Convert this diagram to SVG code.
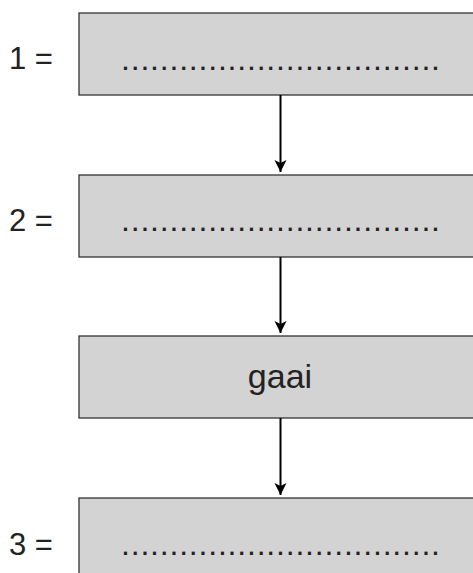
<svg xmlns="http://www.w3.org/2000/svg" width="473" height="573" viewBox="0 0 473 573">
<defs>
<style>
.box{fill:#d3d3d3;stroke:#333;stroke-width:1.3}
.t{font-family:"Liberation Sans",Arial,sans-serif;fill:#222}
.lab{font-size:31px}
.dots{font-size:32px;letter-spacing:0.8px}
.c{stroke:#000;stroke-width:2;fill:none}
</style>
<marker id="ah" markerUnits="userSpaceOnUse" markerWidth="12" markerHeight="13" refX="12" refY="6" orient="auto">
<path d="M0,0 L12,6 L0,12 L3,6 Z" fill="#000"/>
</marker>
</defs>
<g id="node1">
<rect class="box" x="79" y="13" width="402" height="82"/>
<text class="t lab" x="9" y="69">1 =</text>
<text class="t dots" x="121" y="70">.................................</text>
</g>
<g id="node2">
<rect class="box" x="79" y="175" width="402" height="82"/>
<text class="t lab" x="9" y="231">2 =</text>
<text class="t dots" x="121" y="231">.................................</text>
</g>
<g id="node3">
<rect class="box" x="79" y="336" width="402" height="82"/>
<text class="t" x="280" y="388" font-size="34" text-anchor="middle">gaai</text>
</g>
<g id="node4">
<rect class="box" x="79" y="498" width="402" height="82"/>
<text class="t lab" x="9" y="555">3 =</text>
<text class="t dots" x="121" y="555">.................................</text>
</g>
<g id="connectors">
<line class="c" x1="280.5" y1="95" x2="280.5" y2="172" marker-end="url(#ah)"/>
<line class="c" x1="280.5" y1="257" x2="280.5" y2="333" marker-end="url(#ah)"/>
<line class="c" x1="280.5" y1="418" x2="280.5" y2="495" marker-end="url(#ah)"/>
</g>
</svg>
